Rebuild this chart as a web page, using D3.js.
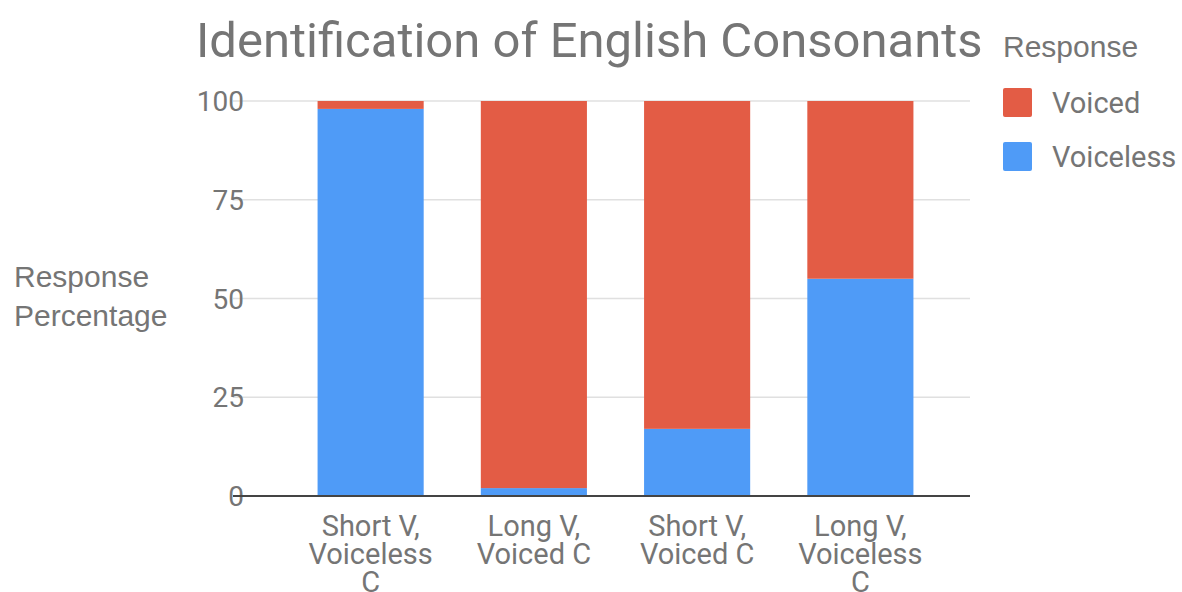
<!DOCTYPE html>
<html>
<head>
<meta charset="utf-8">
<script src="https://cdn.jsdelivr.net/npm/d3@7"></script>
<style>
  body { margin: 0; background: #fff; }
  svg { font-family: Roboto, "Noto Sans", sans-serif; }
</style>
</head>
<body>
<svg id="chart"></svg>
<script>
// data
const categories = [
    ['Short V,', 'Voiceless', 'C'],
    ['Long V,', 'Voiced C'],
    ['Short V,', 'Voiced C'],
    ['Long V,', 'Voiceless', 'C']
];
const voiceless = [98, 2, 17, 55];
const voiced = [2, 98, 83, 45];
const yTicks = [0, 25, 50, 75, 100];
const seriesNames = ['Voiced', 'Voiceless'];
const seriesColors = ['#e35c45', '#4f9bf7'];

const width = 1182, height = 592;
const textColor = '#757575';
const helv = '"Liberation Sans", Arial, sans-serif';

const svg = d3.select('#chart')
    .attr('width', width)
    .attr('height', height);

const x = d3.scaleBand()
    .domain(d3.range(categories.length))
    .range([289, 942])
    .paddingInner(0.35)
    .paddingOuter(0.175);

const y = d3.scaleLinear().domain([0, 100]).range([496, 101]);

// gridlines + tick labels
const grid = svg.append('g');
grid.selectAll('line')
    .data(yTicks)
    .enter()
    .append('line')
    .attr('x1', 233)
    .attr('x2', 970)
    .attr('y1', d => y(d))
    .attr('y2', d => y(d))
    .attr('stroke', d => d === 0 ? '#333' : '#e0e0e0')
    .attr('stroke-width', d => d === 0 ? 2 : 1.5);

grid.selectAll('text')
    .data(yTicks)
    .enter()
    .append('text')
    .attr('x', 244)
    .attr('y', d => y(d) + 10)
    .attr('text-anchor', 'end')
    .attr('font-size', '28px')
    .attr('fill', textColor)
    .text(d => d);

// stacked bars
const rows = voiceless.map((v, i) => ({ i, Voiceless: v, Voiced: voiced[i] }));
const stack = d3.stack().keys(['Voiceless', 'Voiced']);
const layers = stack(rows);
const colorOf = { Voiced: seriesColors[0], Voiceless: seriesColors[1] };

const bars = svg.append('g');
layers.forEach(layer => {
    bars.selectAll(null)
        .data(layer)
        .enter()
        .append('rect')
        .attr('x', d => x(d.data.i))
        .attr('width', x.bandwidth())
        .attr('y', d => y(d[1]))
        .attr('height', d => y(d[0]) - y(d[1]))
        .attr('fill', colorOf[layer.key]);
});

// redraw baseline over bars
svg.append('line')
    .attr('x1', 233).attr('x2', 970)
    .attr('y1', y(0)).attr('y2', y(0))
    .attr('stroke', '#444').attr('stroke-width', 2);

// x labels
const xl = svg.append('g');
categories.forEach((lines, i) => {
    const t = xl.append('text')
        .attr('text-anchor', 'middle')
        .attr('font-size', '29px')
        .attr('fill', textColor);
    lines.forEach((ln, j) => {
        t.append('tspan')
            .attr('x', x(i) + x.bandwidth() / 2)
            .attr('y', 536 + j * 28)
            .text(ln);
    });
});

// title
svg.append('text')
    .attr('x', 196)
    .attr('y', 57)
    .attr('font-size', '49px')
    .attr('fill', textColor)
    .text('Identification of English Consonants');

// y axis title
const yt = svg.append('text')
    .attr('font-family', helv)
    .attr('font-size', '30px')
    .attr('fill', textColor);
yt.append('tspan').attr('x', 14).attr('y', 287).text('Response');
yt.append('tspan').attr('x', 14).attr('y', 326).text('Percentage');

// legend
const legend = svg.append('g');
legend.append('text')
    .attr('x', 1003)
    .attr('y', 57)
    .attr('font-family', helv)
    .attr('font-size', '30px')
    .attr('fill', textColor)
    .text('Response');

seriesNames.forEach((name, i) => {
    const g = legend.append('g').attr('transform', `translate(1003,${88 + i * 54})`);
    g.append('rect')
        .attr('width', 29)
        .attr('height', 29)
        .attr('rx', 2)
        .attr('fill', seriesColors[i]);
    g.append('text')
        .attr('x', 49)
        .attr('y', 25)
        .attr('font-size', '29px')
        .attr('fill', textColor)
        .text(name);
});
</script>
</body>
</html>
